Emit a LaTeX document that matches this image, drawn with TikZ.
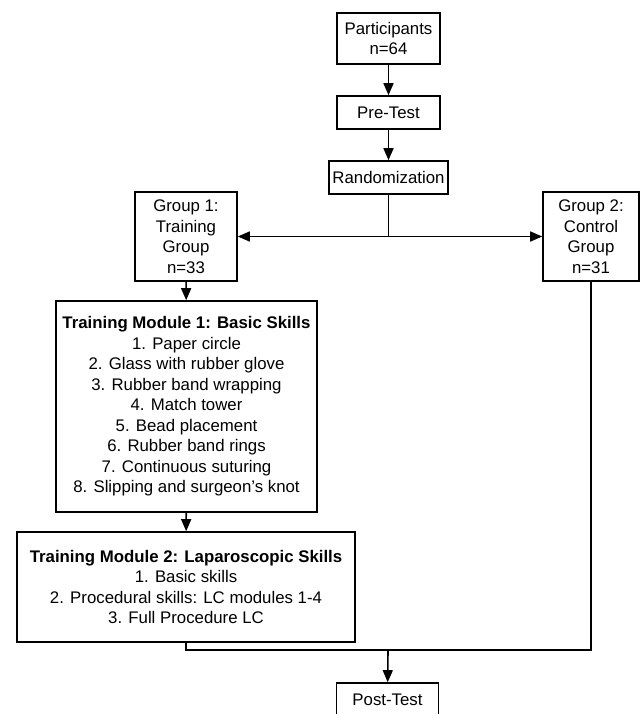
\documentclass[tikz,border=0pt]{standalone}
\usepackage{fontspec}
\setmainfont{Liberation Sans}
\usetikzlibrary{arrows.meta,positioning,calc}

\begin{document}
\begin{tikzpicture}[x=1pt,y=-1pt,
    box/.style={draw,line width=1.6pt,align=center,inner sep=0pt,font=\fontsize{16.8}{20.5}\selectfont},
    arr/.style={-{Triangle[length=12pt,width=10pt]},line width=1.6pt},
    link/.style={line width=1.6pt}]
    \useasboundingbox (0,0) rectangle (644,714);
    % main column
    \node[box,minimum width=103pt,minimum height=51pt] (part) at (388.5,38.5) {Participants\\n=64};
    \node[box,minimum width=103pt,minimum height=33pt] (pre) at (388.5,112.5) {Pre-Test};
    \node[box,minimum width=119pt,minimum height=33pt] (rand) at (388.5,177.5) {Randomization};
    % groups
    \node[box,minimum width=102pt,minimum height=89pt] (grp1) at (186,236.5) {Group 1:\\Training\\Group\\n=33};
    \node[box,minimum width=96pt,minimum height=89pt] (grp2) at (591,236.5) {Group 2:\\Control\\Group\\n=31};
    % training modules
    \node[box,minimum width=261pt,minimum height=211pt] (mod1) at (186.5,406.5) {\textbf{Training Module 1: Basic Skills}\\1. Paper circle\\2. Glass with rubber glove\\3. Rubber band wrapping\\4. Match tower\\5. Bead placement\\6. Rubber band rings\\7. Continuous suturing\\8. Slipping and surgeon's knot};
    \node[box,minimum width=338pt,minimum height=110pt] (mod2) at (186,587) {\textbf{Training Module 2: Laparoscopic Skills}\\1. Basic skills\\2. Procedural skills: LC modules 1-4\\3. Full Procedure LC};
    \node[box,minimum width=102pt,minimum height=33pt] (post) at (387.5,699.5) {Post-Test};
    \coordinate (split) at (rand.south |- grp1.east);
    \coordinate (merge) at (388,650);
    \draw[arr] (part) -- (pre);
    \draw[arr] (pre) -- (rand);
    \draw[link] (rand) -- (split);
    \draw[arr] (split) -- (grp1);
    \draw[arr] (split) -- (grp2);
    \draw[arr] (grp1) -- (mod1);
    \draw[arr] (mod1) -- (mod2);
    \draw[link] (mod2.south) |- (merge) -| (grp2.south);
    \draw[arr] (merge) -- (post);
\end{tikzpicture}
\end{document}
